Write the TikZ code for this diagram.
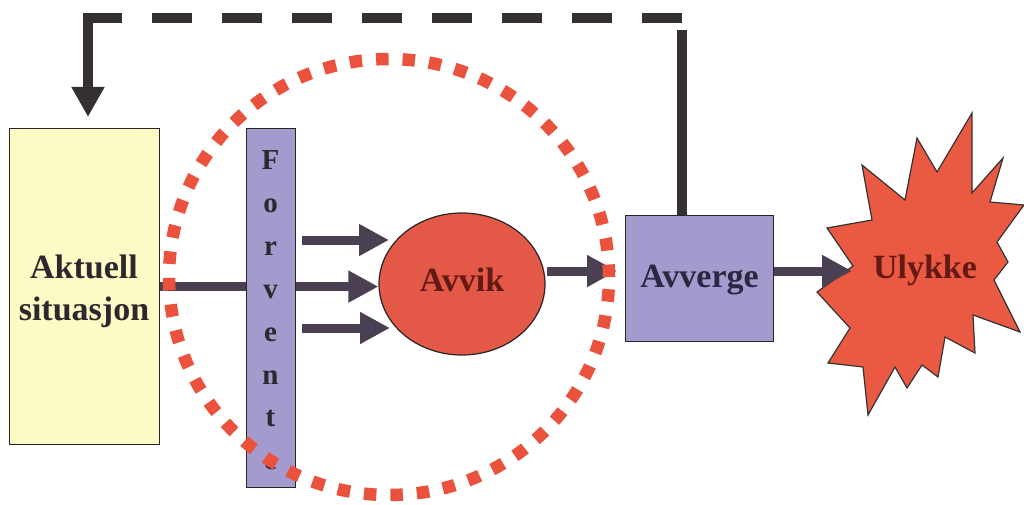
\documentclass[tikz,border=0pt]{standalone}
\usepackage{fontspec}
\setmainfont{Liberation Serif}
\usetikzlibrary{arrows.meta,shapes.geometric}
\definecolor{lav}{RGB}{163,155,206}
\definecolor{pale}{RGB}{252,251,198}
\definecolor{redfill}{RGB}{228,88,72}
\definecolor{starred}{RGB}{234,90,66}
\definecolor{dotred}{RGB}{234,82,62}
\definecolor{arrowcol}{RGB}{74,64,82}
\definecolor{fbcol}{RGB}{52,48,48}
\definecolor{txt}{RGB}{45,40,45}
\definecolor{avtxt}{RGB}{45,38,64}
\definecolor{redtxt}{RGB}{100,25,20}
\begin{document}
\begin{tikzpicture}[x=1pt,y=-1pt,
  box/.style={draw=black!85, line width=1.2pt, inner sep=0pt, anchor=north west},
  bigtxt/.style={font=\fontsize{34}{42}\selectfont\bfseries},
  lettr/.style={font=\fontsize{29}{29}\selectfont\bfseries, text=txt, anchor=base, inner sep=0pt},
  arr/.style={draw=arrowcol, line width=9pt, -{Triangle[length=30pt,width=30pt]}},
  fb/.style={draw=fbcol, line width=10pt},
  starshape/.style={draw=black!80, line width=1.2pt, fill=starred, line join=miter},
]
\useasboundingbox (0,0) rectangle (1024,505);

% Aktuell situasjon
\node[box, fill=pale, minimum width=150pt, minimum height=316pt] (aktuell) at (9,128) {};
\node[bigtxt, text=txt, align=center, inner sep=0pt] (aktuelltxt) at (84,291) {Aktuell\\situasjon};

% Avvik
\node[ellipse, draw=black!85, line width=1.2pt, fill=redfill, minimum width=166pt, minimum height=142pt,
      inner sep=0pt, bigtxt, text=redtxt, text height=23pt, text depth=9pt] (avvik) at (462,284) {Avvik};

% arrows into Avvik
\coordinate (a1s) at (302,240); \coordinate (a1e) at (389,240);
\coordinate (a3s) at (302,328); \coordinate (a3e) at (390,328);
\draw[arr] (aktuell.east) -- (aktuell.east -| avvik.west);
\draw[arr] (a1s) -- (a1e);
\draw[arr] (a3s) -- (a3e);

% Forvente bar
\node[box, fill=lav, minimum width=49pt, minimum height=359pt] (forvente) at (246,128) {};
\foreach \l [count=\i from 0] in {F,o,r,v,e,n,t,e}
  \node[lettr] (f\i) at ({270.5},{170+42.8*\i}) {\l};

% Avverge
\node[box, fill=lav, minimum width=148pt, minimum height=126pt, bigtxt, text=avtxt,
      text height=23pt, text depth=5pt] (avverge) at (625,215) {Avverge};
\coordinate (a2s) at (547,271);
\draw[arr, shorten >=8pt] (a2s) -- (a2s -| avverge.west);

% Ulykke star
\draw[starshape] (853,266) -- (827,228) -- (872,220) -- (862,165) -- (905,200) -- (917,138)
  -- (937,172) -- (972,113) -- (972,193) -- (1003,158) -- (990,202) -- (1024,205)
  -- (997,242) -- (1008,262) -- (994,280) -- (1020,332) -- (973,315) -- (975,353)
  -- (945,337) -- (938,377) -- (922,365) -- (907,388) -- (895,367) -- (868,415)
  -- (863,367) -- (828,363) -- (850,328) -- (817,292) -- cycle;
\node[bigtxt, text=redtxt, anchor=base, inner sep=0pt] (ulykke) at (925,278) {Ulykke};
\coordinate (starin) at (852,271);
\draw[arr] (avverge.east |- starin) -- (starin);

% feedback loop
\coordinate (fbtop) at (682,18);
\coordinate (fbl) at (88,18);
\coordinate (fbv) at (682,30);
\draw[fb] (avverge.north -| fbtop) -- (fbv);
\draw[fb, dash pattern=on 40pt off 30pt] (fbtop) -- ([xshift=-5pt]fbl);
\draw[fb, -{Triangle[length=30pt,width=31pt]}] ([yshift=5pt]fbl) -- ([yshift=11pt]aktuell.north -| fbl);

% dotted zone
\node[ellipse, draw=dotred, line width=12.5pt, dash pattern=on 12.5pt off 14pt,
      minimum width=440pt, minimum height=436pt, inner sep=0pt] (zone) at (389,277) {};
\end{tikzpicture}
\end{document}
